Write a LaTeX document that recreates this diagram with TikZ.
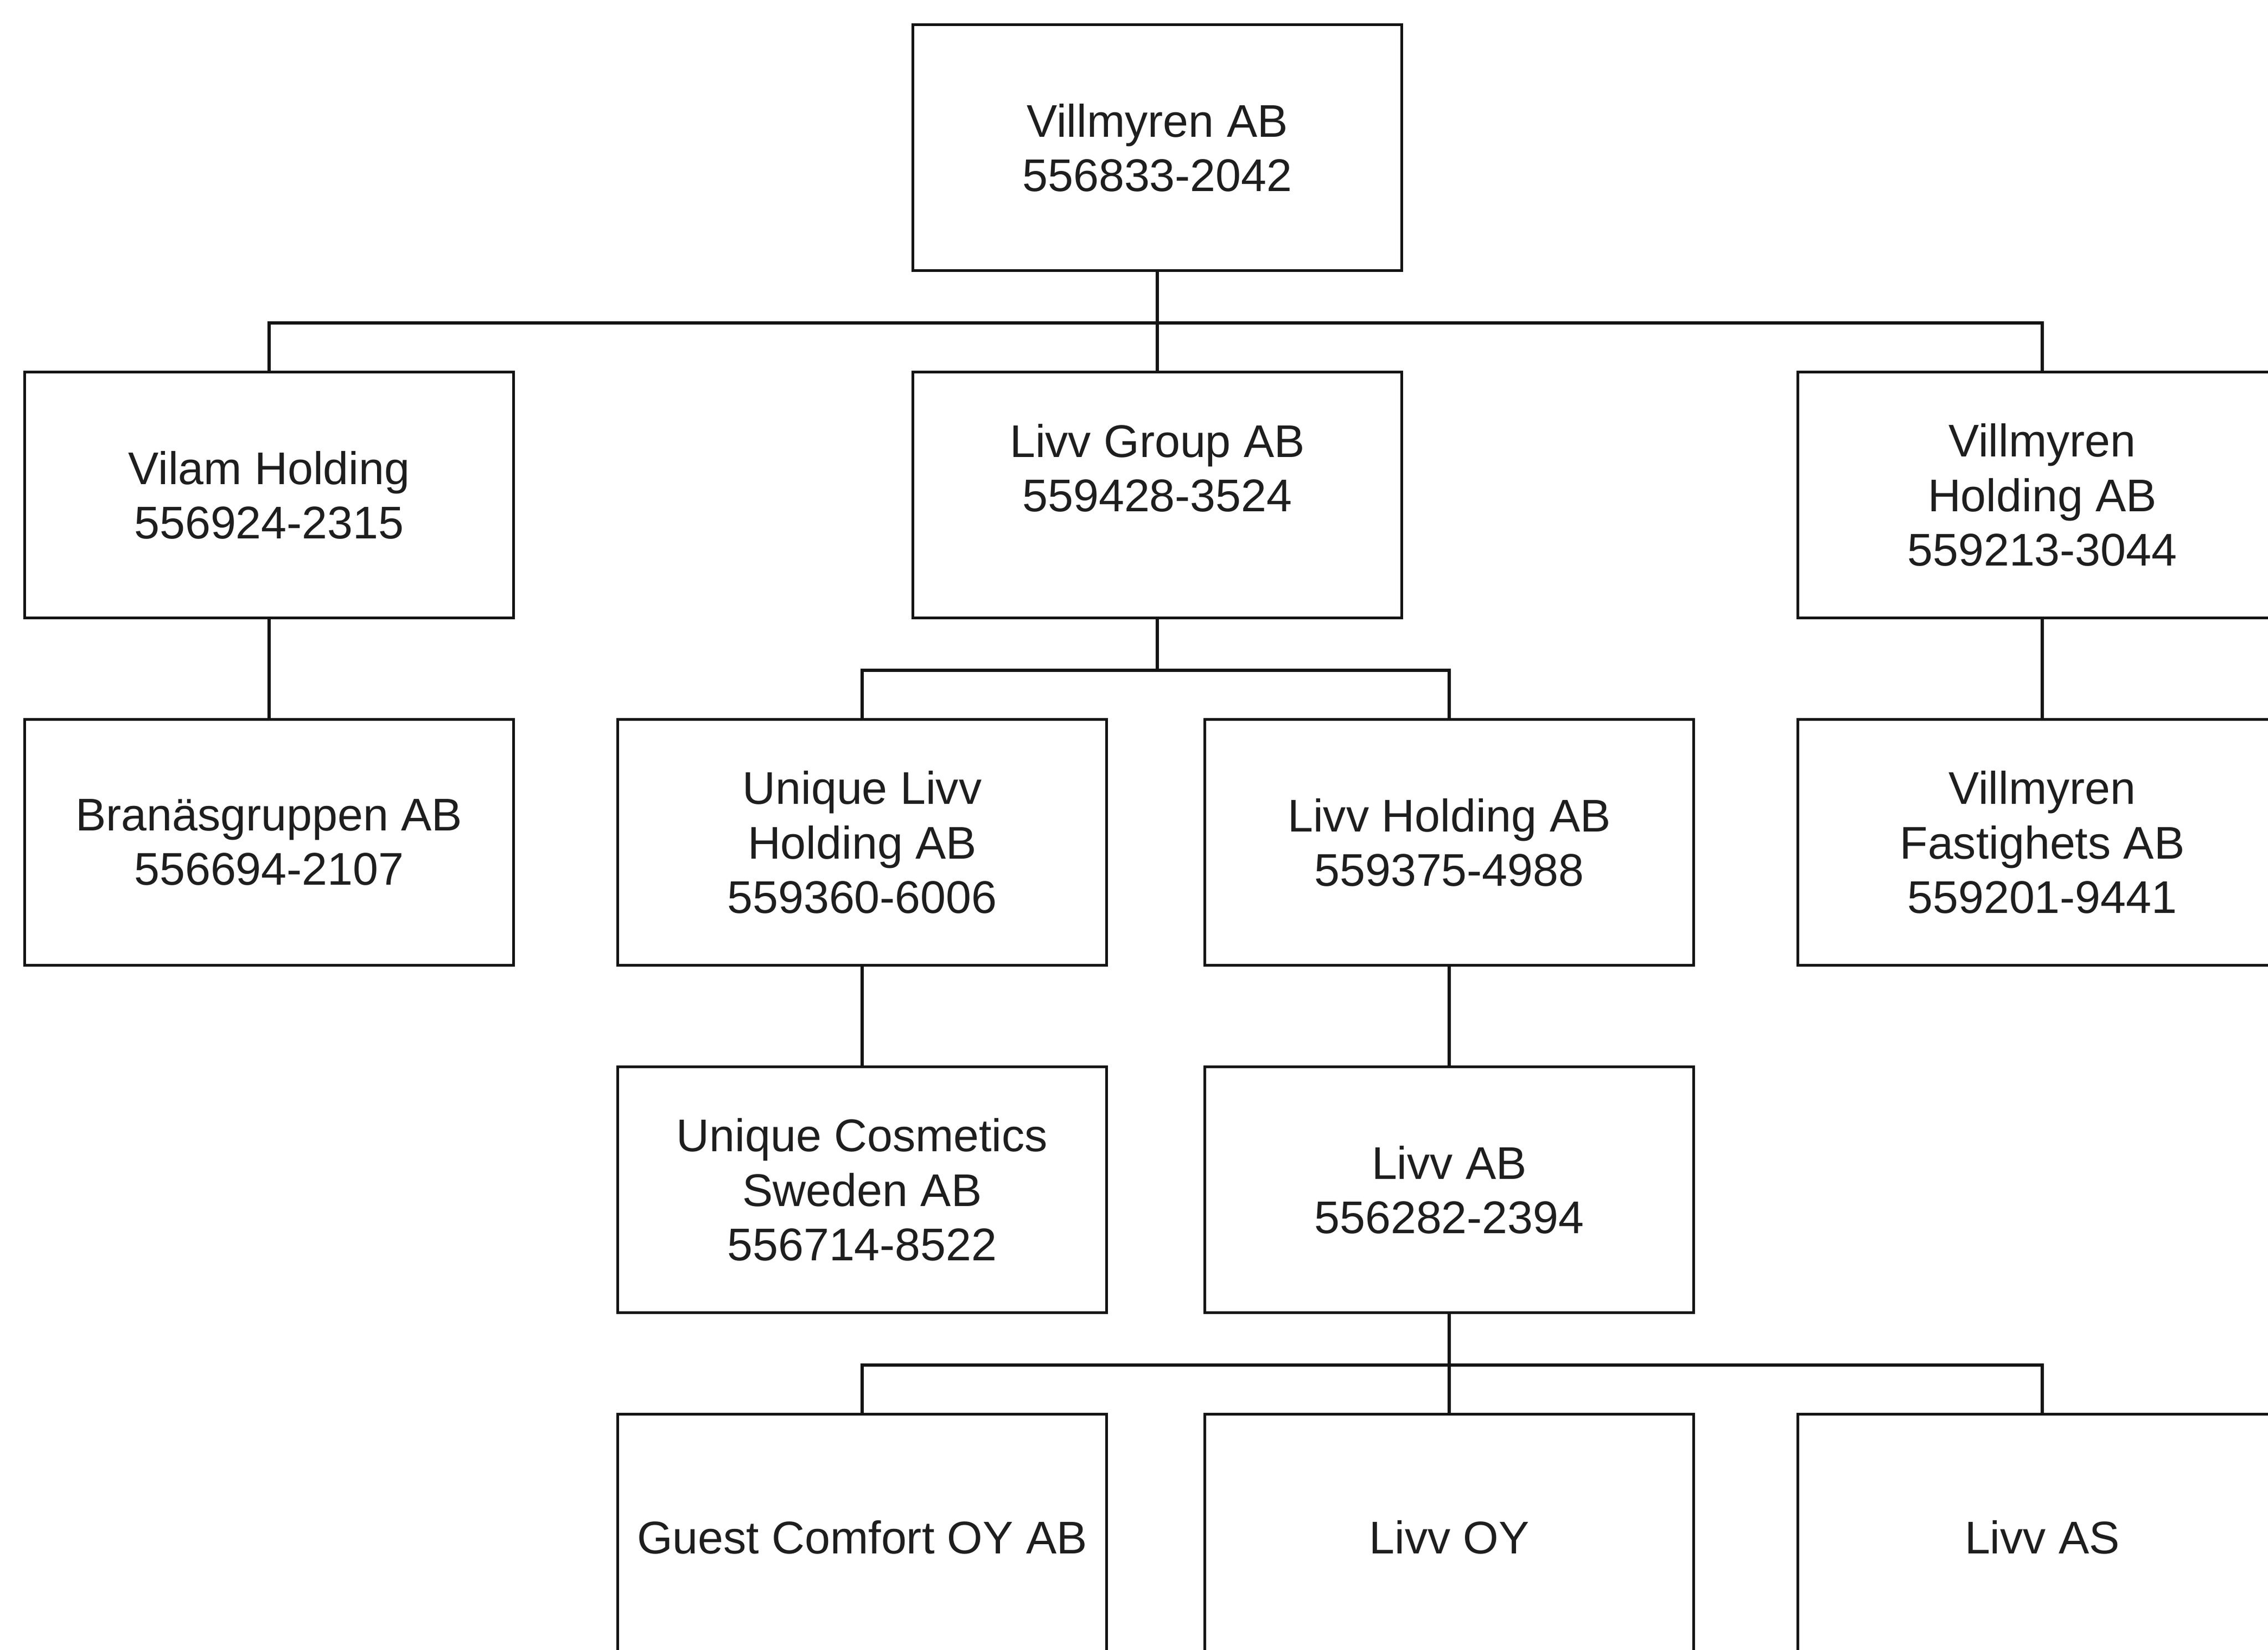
\documentclass[tikz,border=0pt]{standalone}
\usepackage{fontspec}
\setmainfont{Liberation Sans}
\usepackage{tikz}
\usetikzlibrary{positioning}
\definecolor{lineColor}{RGB}{20, 20, 20}
\definecolor{textColor}{RGB}{30, 30, 30}
\tikzset{
    org_box/.style={
        rectangle,
        draw=lineColor,
        line width=1.6pt,
        text=textColor,
        align=center,
        minimum width=9.01cm,
        minimum height=4.53cm,
        inner sep=0pt,
        font=\fontsize{24}{28.5}\selectfont
    },
    org_edge/.style={
        draw=lineColor,
        line width=1.6pt
    }
}

\begin{document}
\begin{tikzpicture}[node distance=6.4cm]
    \useasboundingbox (0,0) rectangle (41.8,30.4);
    \clip (0,0) rectangle (41.8,30.4);

    % owner and first level
    \node[org_box] (villmyren) at (21.33,27.68) {Villmyren AB\\556833-2042};
    \node[org_box, below of=villmyren] (livvgroup) {Livv Group AB\\559428-3524\\\mbox{}};
    \node[org_box, left of=livvgroup, node distance=16.37cm] (vilam) {Vilam Holding\\556924-2315};
    \node[org_box, right of=livvgroup, node distance=16.31cm] (vholding) {Villmyren\\Holding AB\\559213-3044};

    % second level
    \node[org_box, below of=vilam] (branas) {Branäsgruppen AB\\556694-2107};
    \node[org_box, below of=livvgroup, xshift=-5.44cm] (uniqueholding) {Unique Livv\\Holding AB\\559360-6006};
    \node[org_box, below of=livvgroup, xshift=5.38cm] (livvholding) {Livv Holding AB\\559375-4988};
    \node[org_box, below of=vholding] (vfastighets) {Villmyren\\Fastighets AB\\559201-9441};

    % third and fourth level
    \node[org_box, below of=uniqueholding] (cosmetics) {Unique Cosmetics\\Sweden AB\\556714-8522};
    \node[org_box, below of=livvholding] (livvab) {Livv AB\\556282-2394};
    \node[org_box, below of=cosmetics] (guest) {Guest Comfort OY AB};
    \node[org_box, below of=livvab] (livvoy) {Livv OY};
    \node[org_box, below of=vfastighets, node distance=12.8cm] (livvas) {Livv AS};

    % connectors
    \draw[org_edge] (villmyren.south) -- ++(0,-0.935) coordinate (bus_top) -- (livvgroup.north);
    \draw[org_edge] (vilam.north) |- (bus_top) -| (vholding.north);
    \draw[org_edge] (vilam) -- (branas);
    \draw[org_edge] (vholding) -- (vfastighets);

    \draw[org_edge] (livvgroup.south) -- ++(0,-0.935) coordinate (bus_group);
    \draw[org_edge] (uniqueholding.north) |- (bus_group) -| (livvholding.north);
    \draw[org_edge] (uniqueholding) -- (cosmetics);
    \draw[org_edge] (livvholding) -- (livvab);

    \draw[org_edge] (livvab.south) -- ++(0,-0.935) coordinate (bus_livv) -- (livvoy.north);
    \draw[org_edge] (guest.north) |- (bus_livv) -| (livvas.north);
\end{tikzpicture}
\end{document}
